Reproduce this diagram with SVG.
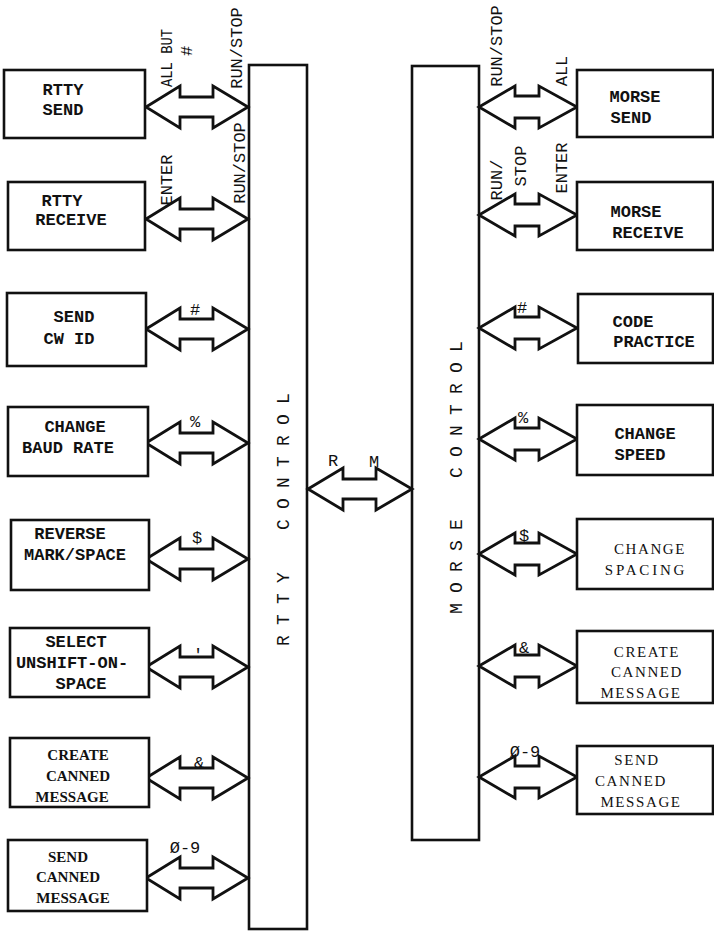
<svg xmlns="http://www.w3.org/2000/svg" width="714" height="932" viewBox="0 0 714 932">
<style>
.box{fill:#fff;stroke:#111;stroke-width:2.6}
.bar{fill:#fff;stroke:#111;stroke-width:2.6}
.arr{fill:#fff;stroke:#111;stroke-width:2.8;stroke-linejoin:miter}
.t{font-family:"Liberation Mono",monospace;font-weight:bold;font-size:17px;fill:#111;text-anchor:middle}
.s{font-family:"Liberation Serif",serif;font-weight:bold;font-size:15px;fill:#111;text-anchor:middle}
.sr{font-family:"Liberation Serif",serif;font-size:15px;fill:#111;text-anchor:middle;letter-spacing:1.6px}
.l{font-family:"Liberation Mono",monospace;font-size:17px;fill:#111;text-anchor:middle}
.bt{font-family:"Liberation Mono",monospace;font-size:18px;fill:#111;letter-spacing:10.2px}
</style>
<defs>
<path id="la" d="M146,0 L180,-21 L180,-10 L213,-10 L213,-21 L248,0 L213,21 L213,10 L180,10 L180,21 Z"/>
<path id="ra" d="M479,0 L515,-21 L515,-11 L539,-11 L539,-21 L577,0 L539,21 L539,11 L515,11 L515,21 Z"/>
</defs>
<rect width="714" height="932" fill="#fff"/>

<g id="rtty-control">
<rect class="bar" x="249" y="65" width="58" height="864"/>
<text class="bt" transform="rotate(-90 289 646)" x="289" y="646">RTTY</text>
<text class="bt" transform="rotate(-90 289 530)" x="289" y="530">CONTROL</text>
</g>
<g id="morse-control">
<rect class="bar" x="412" y="66" width="67" height="774"/>
<text class="bt" transform="rotate(-90 462 614)" x="462" y="614">MORSE</text>
<text class="bt" transform="rotate(-90 462 478)" x="462" y="478">CONTROL</text>
</g>

<g id="connectors">
<use href="#la" class="arr" transform="translate(0,107)"/>
<use href="#la" class="arr" transform="translate(0,219)"/>
<use href="#la" class="arr" transform="translate(0,329)"/>
<use href="#la" class="arr" transform="translate(0,443)"/>
<use href="#la" class="arr" transform="translate(0,559)"/>
<use href="#la" class="arr" transform="translate(0,667)"/>
<use href="#la" class="arr" transform="translate(0,778)"/>
<use href="#la" class="arr" transform="translate(0,878)"/>
<path class="arr" d="M308,489 L343,468 L343,479 L376,479 L376,468 L412,489 L376,510 L376,499 L343,499 L343,510 Z"/>
<use href="#ra" class="arr" transform="translate(0,107)"/>
<use href="#ra" class="arr" transform="translate(0,215)"/>
<use href="#ra" class="arr" transform="translate(0,328)"/>
<use href="#ra" class="arr" transform="translate(0,439)"/>
<use href="#ra" class="arr" transform="translate(0,554)"/>
<use href="#ra" class="arr" transform="translate(0,666)"/>
<use href="#ra" class="arr" transform="translate(0,777)"/>
</g>

<g id="labels">
<text class="l" style="font-size:16px" textLength="58" lengthAdjust="spacingAndGlyphs" transform="rotate(-90 172 58)" x="172" y="58">ALL BUT</text>
<text class="l" transform="rotate(-90 192 51)" x="192" y="51">#</text>
<text class="l" transform="rotate(-90 242 48)" x="242" y="48">RUN/STOP</text>
<text class="l" transform="rotate(-90 172 180)" x="172" y="180">ENTER</text>
<text class="l" transform="rotate(-90 245 163)" x="245" y="163">RUN/STOP</text>
<text class="l" x="195" y="315">#</text>
<text class="l" x="195" y="427">%</text>
<text class="l" x="197" y="543">$</text>
<text class="l" x="198" y="660">'</text>
<text class="l" x="199" y="768">&amp;</text>
<text class="l" x="185" y="853">Ø-9</text>
<text class="l" x="333" y="466">R</text>
<text class="l" x="374" y="467">M</text>
<text class="l" transform="rotate(-90 502 46)" x="502" y="46">RUN/STOP</text>
<text class="l" transform="rotate(-90 567 71)" x="567" y="71">ALL</text>
<text class="l" transform="rotate(-90 502 180)" x="502" y="180">RUN/</text>
<text class="l" transform="rotate(-90 526 166)" x="526" y="166">STOP</text>
<text class="l" transform="rotate(-90 567 168)" x="567" y="168">ENTER</text>
<text class="l" x="522" y="313">#</text>
<text class="l" x="523" y="423">%</text>
<text class="l" x="524" y="541">$</text>
<text class="l" x="524" y="653">&amp;</text>
<text class="l" x="525" y="757">Ø-9</text>
</g>

<g id="rtty-send"><rect class="box" x="4" y="70" width="141" height="68"/>
<text class="t" x="63" y="95">RTTY</text><text class="t" x="63" y="115">SEND</text></g>
<g id="rtty-receive"><rect class="box" x="8" y="182" width="137" height="68"/>
<text class="t" x="62" y="206">RTTY</text><text class="t" x="71" y="225">RECEIVE</text></g>
<g id="send-cw-id"><rect class="box" x="7" y="293" width="139" height="73"/>
<text class="t" x="74" y="322">SEND</text><text class="t" x="69" y="344">CW ID</text></g>
<g id="change-baud-rate"><rect class="box" x="8" y="407" width="140" height="69"/>
<text class="t" x="75" y="432">CHANGE</text><text class="t" x="68" y="453">BAUD RATE</text></g>
<g id="reverse-mark-space"><rect class="box" x="11" y="520" width="138" height="70"/>
<text class="t" x="70" y="539">REVERSE</text><text class="t" x="75" y="560">MARK/SPACE</text></g>
<g id="select-unshift"><rect class="box" x="10" y="628" width="139" height="69"/>
<text class="t" x="76" y="647">SELECT</text><text class="t" x="72" y="668">UNSHIFT-ON-</text><text class="t" x="81" y="689">SPACE</text></g>
<g id="rtty-create-canned"><rect class="box" x="10" y="738" width="139" height="69"/>
<text class="s" x="78" y="760">CREATE</text><text class="s" x="78" y="781">CANNED</text><text class="s" x="72" y="802">MESSAGE</text></g>
<g id="rtty-send-canned"><rect class="box" x="8" y="840" width="139" height="71"/>
<text class="s" x="68" y="862">SEND</text><text class="s" x="68" y="882">CANNED</text><text class="s" x="73" y="903">MESSAGE</text></g>

<g id="morse-send"><rect class="box" x="577" y="70" width="136" height="67"/>
<text class="t" x="635" y="102">MORSE</text><text class="t" x="631" y="123">SEND</text></g>
<g id="morse-receive"><rect class="box" x="577" y="182" width="136" height="68"/>
<text class="t" x="636" y="217">MORSE</text><text class="t" x="648" y="238">RECEIVE</text></g>
<g id="code-practice"><rect class="box" x="578" y="294" width="135" height="69"/>
<text class="t" x="633" y="327">CODE</text><text class="t" x="654" y="347">PRACTICE</text></g>
<g id="change-speed"><rect class="box" x="577" y="405" width="136" height="70"/>
<text class="t" x="645" y="439">CHANGE</text><text class="t" x="640" y="460">SPEED</text></g>
<g id="change-spacing"><rect class="box" x="577" y="519" width="136" height="70"/>
<text class="sr" x="650" y="554">CHANGE</text><text class="sr" style="letter-spacing:2.8px" x="646" y="575">SPACING</text></g>
<g id="morse-create-canned"><rect class="box" x="577" y="631" width="136" height="72"/>
<text class="sr" x="647" y="657">CREATE</text><text class="sr" x="647" y="677">CANNED</text><text class="sr" x="641" y="698">MESSAGE</text></g>
<g id="morse-send-canned"><rect class="box" x="577" y="746" width="136" height="68"/>
<text class="sr" x="637" y="765">SEND</text><text class="sr" x="631" y="786">CANNED</text><text class="sr" x="641" y="807">MESSAGE</text></g>
</svg>
